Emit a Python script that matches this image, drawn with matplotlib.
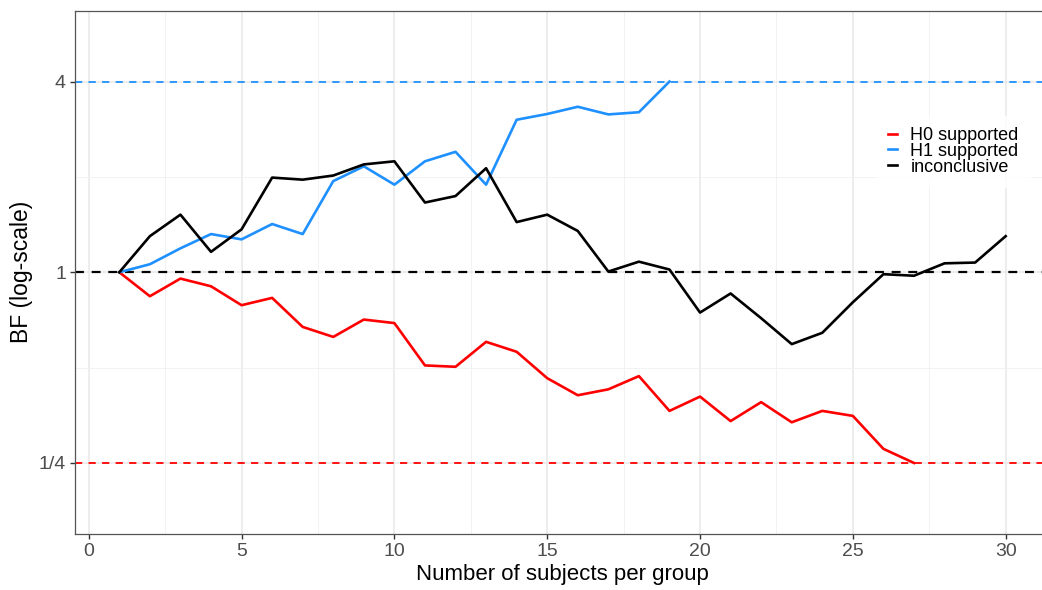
"""Sequential Bayes factor trajectories (log-scale) by sample size."""

import matplotlib

matplotlib.use("Agg")
import matplotlib.pyplot as plt
from matplotlib.lines import Line2D
from matplotlib.ticker import FixedLocator, NullFormatter

plt.rcParams["font.family"] = ["Liberation Sans", "DejaVu Sans"]

# Bayes factors per number of subjects (n = 1, 2, ...)
H0_BF = [1.0, 0.840, 0.955, 0.903, 0.787, 0.830, 0.672, 0.625, 0.709, 0.691,
         0.508, 0.503, 0.603, 0.561, 0.463, 0.409, 0.427, 0.470, 0.365, 0.405,
         0.339, 0.389, 0.336, 0.365, 0.352, 0.277, 0.25]
H1_BF = [1.0, 1.06, 1.19, 1.32, 1.27, 1.42, 1.32, 1.94, 2.16, 1.89,
         2.24, 2.40, 1.89, 3.03, 3.16, 3.33, 3.15, 3.20, 4.0]
INCONCLUSIVE_BF = [1.0, 1.30, 1.52, 1.16, 1.366, 1.99, 1.96, 2.02, 2.19, 2.24,
                   1.66, 1.74, 2.13, 1.44, 1.52, 1.35, 1.005, 1.08, 1.02, 0.746,
                   0.857, 0.716, 0.593, 0.644, 0.804, 0.986, 0.975, 1.067, 1.073, 1.30]
THRESHOLDS = [4, 1, 0.25]
THRESHOLD_COLORS = ["#1E90FF", "black", "#FF0000"]
LABELS = ["H0 supported", "H1 supported", "inconclusive"]
COLORS = ["#FF0000", "#1E90FF", "black"]
Y_TICKS = [0.25, 1, 4]
Y_TICK_LABELS = ["1/4", "1", "4"]


def main() -> None:
    fig = plt.figure(figsize=(10.42, 5.90), dpi=100)
    # panel runs slightly past the right edge, as in the original crop
    ax = fig.add_axes([75 / 1042, 1 - 534 / 590, (1050 - 75) / 1042, (534 - 10.5) / 590])

    ax.set_yscale("log", base=2)
    ax.set_xlim(-0.45, 31.45)
    ax.set_ylim(2 ** -2.745, 2 ** 2.745)

    ax.xaxis.set_major_locator(FixedLocator([0, 5, 10, 15, 20, 25, 30]))
    ax.xaxis.set_minor_locator(FixedLocator([2.5, 7.5, 12.5, 17.5, 22.5, 27.5]))
    ax.yaxis.set_major_locator(FixedLocator(Y_TICKS))
    ax.yaxis.set_minor_locator(FixedLocator([0.5, 2]))
    ax.yaxis.set_minor_formatter(NullFormatter())
    ax.set_yticklabels(Y_TICK_LABELS)
    ax.grid(True, which="major", color="#E8E8E8", linewidth=1.1)
    ax.grid(True, which="minor", color="#F0F0F0", linewidth=0.6)
    ax.set_axisbelow(True)

    for level, color in zip(THRESHOLDS, THRESHOLD_COLORS):
        ax.axhline(level, color=color, linestyle=(0, (4, 3.5)),
                   linewidth=1.3 if color != "black" else 1.6, zorder=2)

    for series, color in zip([H0_BF, H1_BF, INCONCLUSIVE_BF], COLORS):
        n = list(range(1, len(series) + 1))
        ax.plot(n, series, color=color, linewidth=1.9, zorder=3)

    for spine in ax.spines.values():
        spine.set_color("#555555")
        spine.set_linewidth(0.9)
    ax.tick_params(which="major", length=3.5, width=1.0, color="#333333",
                   labelsize=14, labelcolor="#4D4D4D", pad=3)
    ax.tick_params(which="minor", length=0)

    ax.set_xlabel("Number of subjects per group", fontsize=16, labelpad=3)
    ax.set_ylabel("BF (log-scale)", fontsize=16.5, labelpad=4)

    handles = [Line2D([], [], color=c, linewidth=1.9) for c in COLORS]
    leg = ax.legend(handles, LABELS, loc="upper left",
                    bbox_to_anchor=(868 / 1042, 1 - 107 / 590),
                    bbox_transform=fig.transFigure,
                    fontsize=13, frameon=True, fancybox=False, handlelength=0.5,
                    handletextpad=0.75, labelspacing=-0.06, borderpad=0.6)
    leg.get_frame().set_edgecolor("white")
    leg.get_frame().set_facecolor("white")

    fig.savefig("out.png", dpi=100)
    plt.close(fig)


if __name__ == "__main__":
    main()
